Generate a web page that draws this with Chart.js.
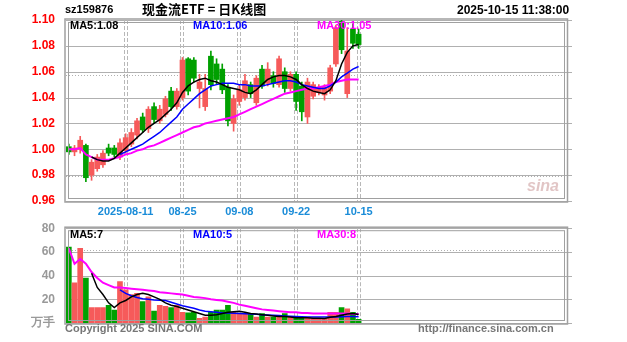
<!DOCTYPE html>
<html>
<head>
<meta charset="utf-8">
<title>现金流ETF 日K线图</title>
<script src="https://cdn.jsdelivr.net/npm/chart.js@4.4.1/dist/chart.umd.min.js"></script>
<style>
  html, body { margin: 0; padding: 0; background: #fff; }
  #wrap { position: relative; width: 627px; height: 342px; overflow: hidden;
          font-family: "Liberation Sans", Arial, sans-serif; font-weight: bold; }
  #kline { position: absolute; left: 0; top: 0; }
  #vol { position: absolute; left: 0; top: 218px; }
  .txt { position: absolute; white-space: nowrap; line-height: 1; }
</style>
</head>
<body>
<div id="wrap">
  <canvas id="vol" width="627" height="124"></canvas>
  <canvas id="kline" width="627" height="224"></canvas>

  <div class="txt" style="left:65px;top:4px;font-size:11px;color:#000">sz159876</div>
  <div class="txt" style="left:142px;top:2px;font-size:13px;color:#000;font-family:'Noto Sans CJK SC',sans-serif">现金流ETF = 日K线图</div>
  <div class="txt" style="left:457px;top:4px;font-size:12px;color:#000">2025-10-15 11:38:00</div>

  <div class="txt" id="lgMa5" style="left:70px;top:20px;font-size:11px;color:#000"></div>
  <div class="txt" id="lgMa10" style="left:193px;top:20px;font-size:11px;color:#0000ff"></div>
  <div class="txt" id="lgMa30" style="left:317px;top:20px;font-size:11px;color:#ff00ff"></div>

  <div class="txt" id="lgVol5" style="left:70px;top:229px;font-size:11px;color:#000"></div>
  <div class="txt" id="lgVol10" style="left:193px;top:229px;font-size:11px;color:#0000ff"></div>
  <div class="txt" id="lgVol30" style="left:317px;top:229px;font-size:11px;color:#ff00ff"></div>

  <div class="txt" style="left:527px;top:178px;font-size:16px;font-style:italic;color:rgba(200,150,150,0.55)">sina</div>

  <div class="txt" style="left:65px;top:323px;font-size:11px;color:#777">Copyright 2025 SINA.COM</div>
  <div class="txt" style="left:418px;top:323px;font-size:11px;color:#777">http://finance.sina.com.cn</div>
</div>

<script>
// trading days shown on the chart
const dates = [
  '2025-07-28', '2025-07-29', '2025-07-30', '2025-07-31', '2025-08-01',
  '2025-08-04', '2025-08-05', '2025-08-06', '2025-08-07', '2025-08-08',
  '2025-08-11', '2025-08-12', '2025-08-13', '2025-08-14', '2025-08-15',
  '2025-08-18', '2025-08-19', '2025-08-20', '2025-08-21', '2025-08-22',
  '2025-08-25', '2025-08-26', '2025-08-27', '2025-08-28', '2025-08-29',
  '2025-09-01', '2025-09-02', '2025-09-03', '2025-09-04', '2025-09-05',
  '2025-09-08', '2025-09-09', '2025-09-10', '2025-09-11', '2025-09-12',
  '2025-09-15', '2025-09-16', '2025-09-17', '2025-09-18', '2025-09-19',
  '2025-09-22', '2025-09-23', '2025-09-24', '2025-09-25', '2025-09-26',
  '2025-09-29', '2025-09-30',
  '2025-10-09', '2025-10-10', '2025-10-13', '2025-10-14', '2025-10-15'
];

// dates that get a label and a dashed guide line
const tickDates = ['2025-08-11', '2025-08-25', '2025-09-08', '2025-09-22', '2025-10-15'];

const opens = [
  1.002, 0.998, 1.000, 1.003, 0.980, 0.985, 0.988, 1.001, 1.001, 0.994,
  0.999, 1.004, 1.011, 1.025, 1.016, 1.033, 1.022, 1.027, 1.045, 1.033,
  1.040, 1.070, 1.069, 1.047, 1.033, 1.072, 1.066, 1.062, 1.048, 1.020,
  1.037, 1.040, 1.050, 1.036, 1.062, 1.051, 1.057, 1.050, 1.060, 1.047,
  1.058, 1.049, 1.025, 1.041, 1.044, 1.042, 1.045, 1.066, 1.099, 1.043,
  1.093, 1.089
];
const highs = [
  1.004, 1.003, 1.010, 1.004, 0.992, 0.996, 0.999, 1.004, 1.003, 1.008,
  1.012, 1.016, 1.024, 1.028, 1.033, 1.036, 1.034, 1.041, 1.048, 1.047,
  1.071, 1.071, 1.071, 1.058, 1.058, 1.076, 1.070, 1.066, 1.050, 1.042,
  1.050, 1.058, 1.052, 1.057, 1.065, 1.067, 1.060, 1.072, 1.063, 1.060,
  1.060, 1.052, 1.055, 1.052, 1.050, 1.050, 1.065, 1.096, 1.100, 1.094,
  1.097, 1.093
];
const lows = [
  0.996, 0.995, 0.997, 0.975, 0.976, 0.983, 0.986, 0.995, 0.994, 0.992,
  0.997, 1.002, 1.008, 1.013, 1.013, 1.020, 1.020, 1.025, 1.030, 1.031,
  1.038, 1.042, 1.052, 1.032, 1.030, 1.046, 1.050, 1.043, 1.018, 1.014,
  1.034, 1.038, 1.040, 1.034, 1.047, 1.049, 1.048, 1.048, 1.044, 1.045,
  1.030, 1.022, 1.020, 1.039, 1.042, 1.038, 1.043, 1.064, 1.074, 1.040,
  1.078, 1.078
];
const closes = [
  0.998, 1.001, 1.007, 0.978, 0.990, 0.994, 0.997, 0.997, 0.996, 1.005,
  1.009, 1.013, 1.022, 1.015, 1.031, 1.023, 1.031, 1.039, 1.033, 1.045,
  1.069, 1.045, 1.055, 1.052, 1.047, 1.050, 1.054, 1.046, 1.022, 1.039,
  1.046, 1.053, 1.043, 1.055, 1.049, 1.062, 1.051, 1.070, 1.047, 1.058,
  1.037, 1.029, 1.052, 1.050, 1.048, 1.048, 1.063, 1.094, 1.077, 1.076,
  1.082, 1.081
];

// price moving averages
const ma5 = [
  null, null, null, null, 0.994, 0.992, 0.991, 0.991, 0.993, 0.997,
  1.001, 1.005, 1.009, 1.013, 1.017, 1.020, 1.023, 1.027, 1.031, 1.036,
  1.044, 1.049, 1.052, 1.054, 1.055, 1.053, 1.052, 1.050, 1.048, 1.047,
  1.046, 1.044, 1.043, 1.046, 1.050, 1.054, 1.056, 1.057, 1.057, 1.056,
  1.054, 1.050, 1.047, 1.045, 1.044, 1.043, 1.046, 1.053, 1.066, 1.075,
  1.080, 1.081
];
const ma10 = [
  null, null, null, null, null, null, null, null, null, 0.996,
  0.998, 1.000, 1.002, 1.004, 1.007, 1.010, 1.013, 1.017, 1.021, 1.025,
  1.031, 1.035, 1.039, 1.043, 1.046, 1.049, 1.050, 1.051, 1.051, 1.051,
  1.050, 1.050, 1.049, 1.049, 1.049, 1.050, 1.051, 1.052, 1.053, 1.053,
  1.052, 1.050, 1.049, 1.048, 1.047, 1.047, 1.049, 1.052, 1.056, 1.059,
  1.062, 1.064
];
const ma30 = [
  1.000, 1.000, 1.001, 0.996, 0.994, 0.992, 0.992, 0.992, 0.993, 0.994,
  0.996, 0.997, 0.999, 1.000, 1.002, 1.003, 1.005, 1.007, 1.009, 1.011,
  1.013, 1.015, 1.017, 1.018, 1.020, 1.021, 1.022, 1.023, 1.024, 1.025,
  1.027, 1.029, 1.031, 1.033, 1.035, 1.037, 1.039, 1.041, 1.043, 1.044,
  1.045, 1.046, 1.047, 1.047, 1.048, 1.049, 1.050, 1.052, 1.053, 1.054,
  1.054, 1.054
];

// volume (万手) and its moving averages
const volumes = [
  64, 34, 63, 38, 13, 13, 13, 15, 11, 35,
  28, 24, 25, 18, 22, 10, 15, 14, 13, 15,
  9, 8.5, 9, 4, 5, 9, 11, 11, 15, 9,
  8, 8, 8, 5, 8, 5, 5, 5, 8, 5,
  4, 4, 5, 4, 4, 4, 9, 9, 13, 12,
  9, 3
];
const volMa5 = [
  null, null, null, null, 42, 30, 24, 17, 13, 17,
  19, 22, 24, 25, 24, 22, 20, 17, 15, 14,
  12.5, 11, 9.5, 8, 6.5, 6.5, 7, 8, 9, 9.5,
  10, 9, 8, 7.5, 7, 6.5, 6, 5.5, 5.5, 5,
  4.5, 4.5, 4.5, 4, 4, 3.8, 4.8, 5.5, 6.5, 7.5,
  8, 7.2
];
const volMa10 = [
  null, null, null, null, null, null, null, null, null, 28,
  25, 23, 21.5, 20.5, 20, 19.5, 19.3, 19, 17.5, 16,
  14.5, 13.5, 12.5, 11, 10, 9.5, 9, 8.5, 8.5, 8.3,
  8, 7.8, 7.5, 7.3, 7, 6.8, 6.5, 6.3, 6, 5.8,
  5.5, 5.3, 5, 5, 5, 5, 5, 5, 5.2, 5.4,
  5.4, 5.2
];
const volMa30 = [
  63, 50, 54, 50, 43, 38, 34, 32, 30, 30,
  29.5, 29, 28.5, 28, 27.5, 27, 26, 25.5, 25, 24.5,
  24, 23, 22, 21.5, 21, 20, 19.5, 19, 18, 17,
  15.5, 14.5, 13.5, 12.5, 11.5, 11, 10.5, 10, 9.5, 9,
  9, 8.5, 8.5, 8, 8, 8, 8, 8, 8, 8,
  7.5, 7.5
];

// axis ranges
const priceTicks = { min: 0.96, max: 1.10, step: 0.02 };
const volTicks = { min: 0, max: 80, step: 20 };
const volUnit = '万手';

const SLOTS = 88;              // the date axis has room for 88 trading days
const RED = '#f65a5a';
const GREEN = '#00a000';
const GRID = '#b0b0b0';

const slotLabels = Array.from({ length: SLOTS }, (_, i) => dates[i] || '');
const tickIndexes = tickDates.map(d => dates.indexOf(d));
const candleColors = closes.map((c, i) => (c >= opens[i] ? RED : GREEN));

function tickText(label) {
    const k = tickDates.indexOf(label);
    if (k < 0) return '';
    return k === 0 ? label : label.slice(5);
}

// grid lines, dashed date guides and the double frame
const framePlugin = {
    id: 'frame',
    beforeDatasetsDraw(chart, args, opts) {
        const { ctx, chartArea: a, scales: { x, y } } = chart;
        ctx.save();
        ctx.lineWidth = 1;
        ctx.strokeStyle = GRID;
        y.ticks.forEach(t => {
            const py = Math.round(y.getPixelForValue(t.value)) + 0.5;
            ctx.beginPath();
            ctx.moveTo(a.left, py);
            ctx.lineTo(a.right + 6, py);
            ctx.stroke();
        });
        ctx.setLineDash([1, 2]);
        (opts.dotted || []).forEach(v => {
            const py = Math.round(y.getPixelForValue(v)) + 0.5;
            ctx.beginPath();
            ctx.moveTo(a.left, py);
            ctx.lineTo(a.right, py);
            ctx.stroke();
        });
        ctx.setLineDash([4, 2]);
        ctx.strokeStyle = '#b8b8b8';
        tickIndexes.forEach(i => {
            const px = Math.round(x.getPixelForValue(i));
            [px - 1.5, px + 1.5].forEach(lx => {
                ctx.beginPath();
                ctx.moveTo(lx, a.top);
                ctx.lineTo(lx, a.bottom);
                ctx.stroke();
            });
        });
        ctx.restore();
    },
    afterDraw(chart) {
        const { ctx, chartArea: a } = chart;
        ctx.save();
        ctx.strokeStyle = '#a0a0a0';
        ctx.lineWidth = 1.5;
        ctx.strokeRect(a.left - 1, a.top - 1, a.right - a.left + 2.5, a.bottom - a.top + 2);
        ctx.lineWidth = 1;
        ctx.strokeRect(a.left + 2.5, a.top + 2.5, a.right - a.left - 4, a.bottom - a.top - 5);
        ctx.restore();
    }
};

function maLine(data, color, width) {
    return {
        type: 'line',
        data: data,
        borderColor: color,
        borderWidth: width,
        pointRadius: 0,
        tension: 0,
        spanGaps: false,
        order: 0
    };
}

const fontBold = (size) => ({ family: '"Liberation Sans", Arial, sans-serif', size: size, weight: 'bold' });

// price chart
new Chart(document.getElementById('kline'), {
    type: 'bar',
    data: {
        labels: slotLabels,
        datasets: [
            maLine(ma5, '#000000', 1.5),
            maLine(ma10, '#0000ff', 1.5),
            maLine(ma30, '#ff00ff', 2),
            {
                data: opens.map((o, i) => [o, closes[i]]),
                backgroundColor: candleColors,
                barThickness: 5,
                grouped: false,
                order: 1
            },
            {
                data: lows.map((l, i) => [l, highs[i]]),
                backgroundColor: candleColors,
                barThickness: 1,
                grouped: false,
                order: 2
            }
        ]
    },
    options: {
        responsive: false,
        animation: false,
        events: [],
        layout: { padding: { top: 20, right: 61, left: 0, bottom: 0 } },
        plugins: {
            legend: { display: false },
            tooltip: { enabled: false },
            frame: { dotted: [1.0574, 0.979] }
        },
        scales: {
            x: {
                grid: { display: false, drawTicks: false },
                border: { display: false },
                ticks: {
                    autoSkip: false,
                    maxRotation: 0,
                    padding: 4,
                    color: '#1a8cd8',
                    font: fontBold(11),
                    callback: function(v, i) { return tickText(slotLabels[i]); }
                },
                afterFit: s => { s.height = 23; }
            },
            y: {
                min: priceTicks.min,
                max: priceTicks.max,
                grid: { display: false },
                border: { display: false },
                ticks: {
                    stepSize: priceTicks.step,
                    padding: 3,
                    color: '#ff0000',
                    font: fontBold(12),
                    callback: v => v.toFixed(2)
                },
                afterFit: s => { s.width = 66; }
            }
        }
    },
    plugins: [framePlugin]
});

// volume chart
new Chart(document.getElementById('vol'), {
    type: 'bar',
    data: {
        labels: slotLabels,
        datasets: [
            maLine(volMa5, '#000000', 1.5),
            maLine(volMa10, '#0000ff', 1.5),
            maLine(volMa30, '#ff00ff', 2),
            {
                data: volumes,
                backgroundColor: candleColors,
                barThickness: 5,
                order: 1
            }
        ]
    },
    options: {
        responsive: false,
        animation: false,
        events: [],
        layout: { padding: { top: 10, right: 61, left: 0, bottom: 19 } },
        plugins: {
            legend: { display: false },
            tooltip: { enabled: false },
            frame: { dotted: [62] }
        },
        scales: {
            x: { display: false },
            y: {
                min: volTicks.min,
                max: volTicks.max,
                grid: { display: false },
                border: { display: false },
                ticks: {
                    stepSize: volTicks.step,
                    padding: 3,
                    color: '#999999',
                    font: fontBold(12),
                    callback: v => (v === 0 ? volUnit : String(v))
                },
                afterFit: s => { s.width = 66; }
            }
        }
    },
    plugins: [framePlugin]
});

// moving-average readouts for the last day
const last = dates.length - 1;
document.getElementById('lgMa5').textContent = 'MA5:' + ma5[last].toFixed(2);
document.getElementById('lgMa10').textContent = 'MA10:' + ma10[last].toFixed(2);
document.getElementById('lgMa30').textContent = 'MA30:' + ma30[last].toFixed(2);
document.getElementById('lgVol5').textContent = 'MA5:' + Math.round(volMa5[last]);
document.getElementById('lgVol10').textContent = 'MA10:' + Math.round(volMa10[last]);
document.getElementById('lgVol30').textContent = 'MA30:' + Math.round(volMa30[last]);
</script>
</body>
</html>
